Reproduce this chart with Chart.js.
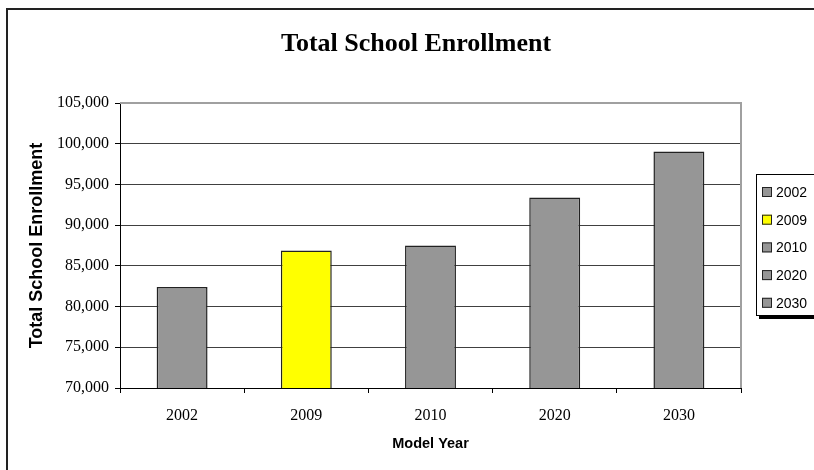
<!DOCTYPE html>
<html>
<head>
<meta charset="utf-8">
<title>Total School Enrollment</title>
<script src="https://cdn.jsdelivr.net/npm/chart.js@4"></script>
<style>
  html, body { margin: 0; padding: 0; background: #fff; overflow: hidden; }
  #wrap { position: relative; width: 814px; height: 470px; }
</style>
</head>
<body>
<div id="wrap"><canvas id="enrollChart"></canvas></div>
<script>
const chartTitle = 'Total School Enrollment';
const modelYears = ['2002', '2009', '2010', '2020', '2030'];
const enrollment = [82400, 86900, 87500, 93400, 99050];
const barColors = ['#969696', '#ffff00', '#969696', '#969696', '#969696'];
const yMin = 70000;
const yMax = 105000;
const yStep = 5000;

function fmtThousands(v) {
  return String(v).replace(/\B(?=(\d{3})+(?!\d))/g, ',');
}

// outer frame, heading, plot border and the boxed legend on the right
const framePlugin = {
  id: 'frame',
  beforeDraw(chart) {
    const ctx = chart.ctx;
    ctx.save();
    ctx.strokeStyle = '#222';
    ctx.lineWidth = 2;
    ctx.beginPath();
    ctx.moveTo(7, chart.height + 2);
    ctx.lineTo(7, 9);
    ctx.lineTo(chart.width + 2, 9);
    ctx.stroke();

    // heading sits a little right of the canvas centre
    ctx.fillStyle = '#000';
    ctx.font = 'bold 26px "Liberation Serif", "Times New Roman", serif';
    ctx.textAlign = 'center';
    ctx.textBaseline = 'alphabetic';
    ctx.fillText(chartTitle, 416, 51);
    ctx.restore();
  },
  afterDraw(chart) {
    const ctx = chart.ctx;
    const a = chart.chartArea;
    ctx.save();
    // top and right edges of the plot area are grey
    ctx.strokeStyle = '#a0a0a0';
    ctx.lineWidth = 2;
    ctx.beginPath();
    ctx.moveTo(a.left, a.top);
    ctx.lineTo(a.right, a.top);
    ctx.lineTo(a.right, a.bottom);
    ctx.stroke();

    // legend box (runs off the right edge)
    const bx = 756, by = 174, bh = 141;
    ctx.fillStyle = '#000';
    ctx.fillRect(bx + 3, by + bh, chart.width, 4);
    ctx.fillStyle = '#fff';
    ctx.fillRect(bx, by, chart.width, bh);
    ctx.strokeStyle = '#000';
    ctx.lineWidth = 1;
    ctx.strokeRect(bx + 0.5, by + 0.5, chart.width, bh);

    ctx.font = '14px "Liberation Sans", Arial, sans-serif';
    ctx.textBaseline = 'middle';
    ctx.textAlign = 'left';
    modelYears.forEach((yr, i) => {
      const cy = by + 18 + i * 27.7;
      ctx.fillStyle = barColors[i];
      ctx.fillRect(762, cy - 5, 10, 10);
      ctx.strokeStyle = '#222';
      ctx.strokeRect(762.5, cy - 4.5, 9, 9);
      ctx.fillStyle = '#000';
      ctx.fillText(yr, 776, cy + 1);
    });
    ctx.restore();
  }
};

new Chart(document.getElementById('enrollChart'), {
  type: 'bar',
  data: {
    labels: modelYears,
    datasets: [{
      label: chartTitle,
      data: enrollment,
      backgroundColor: barColors,
      borderColor: '#222',
      borderWidth: 1.5,
      barPercentage: 0.41,
      categoryPercentage: 1
    }]
  },
  options: {
    responsive: true,
    maintainAspectRatio: false,
    animation: false,
    layout: { padding: { left: 0, right: 73, top: 103, bottom: 0 } },
    plugins: {
      legend: { display: false },
      tooltip: { enabled: false },
      title: { display: false }
    },
    scales: {
      x: {
        afterFit(scale) { scale.height = 82; },
        grid: { drawOnChartArea: false, drawTicks: true, tickLength: 5, color: '#000' },
        border: { color: '#000', width: 1 },
        ticks: {
          color: '#000',
          padding: 13,
          font: { family: '"Liberation Serif", "Times New Roman", serif', size: 16 }
        },
        title: {
          display: true,
          text: 'Model Year',
          color: '#000',
          font: { family: '"Liberation Sans", Arial, sans-serif', size: 14.5, weight: 'bold' },
          padding: { top: 0, bottom: 17 }
        }
      },
      y: {
        min: yMin,
        max: yMax,
        afterFit(scale) { scale.width = 120; },
        grid: {
          tickLength: 5,
          tickColor: '#000',
          color: (c) => (c.tick && c.tick.value === yMax ? '#a0a0a0' : '#404040')
        },
        border: { color: '#000', width: 1 },
        ticks: {
          stepSize: yStep,
          color: '#000',
          padding: 6,
          font: { family: '"Liberation Serif", "Times New Roman", serif', size: 16 },
          callback: (v) => fmtThousands(v)
        },
        title: {
          display: true,
          text: chartTitle,
          color: '#000',
          font: { family: '"Liberation Sans", Arial, sans-serif', size: 18, weight: 'bold' },
          padding: { top: 26, bottom: 0 }
        }
      }
    }
  },
  plugins: [framePlugin]
});
</script>
</body>
</html>
